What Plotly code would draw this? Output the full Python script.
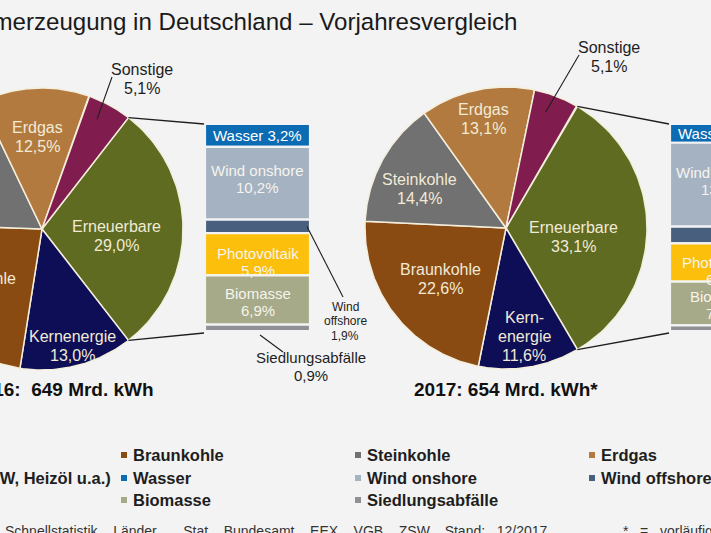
import numpy as np
import plotly.graph_objects as go

# Bruttostromerzeugung in Deutschland, Anteile in %
pie_labels = ["Erneuerbare", "Kernenergie", "Braunkohle", "Steinkohle", "Erdgas", "Sonstige"]
pie_2016 = [29.0, 13.0, 23.1, 17.3, 12.5, 5.1]
pie_2017 = [33.1, 11.6, 22.6, 14.4, 13.1, 5.1]

# Aufteilung der Erneuerbaren
ee_labels = ["Wasser", "Wind onshore", "Wind offshore", "Photovoltaik", "Biomasse", "Siedlungsabfälle"]
ee_2016 = [3.2, 10.2, 1.9, 5.9, 6.9, 0.9]
ee_2017 = [3.0, 13.4, 2.7, 6.1, 7.0, 0.9]

titles = ["2016:\u00a0 649 Mrd. kWh", "2017: 654 Mrd. kWh*"]

legend_rows = [
    ["Kernenergie", "Braunkohle", "Steinkohle", "Erdgas"],
    ["Sonstige (Pumpspeicher-KW, Heizöl u.a.)", "Wasser", "Wind onshore", "Wind offshore"],
    ["Photovoltaik", "Biomasse", "Siedlungsabfälle"],
]

colors = {
    "Erneuerbare": "#5e6b21",
    "Kernenergie": "#0e0e57",
    "Braunkohle": "#8a4b12",
    "Steinkohle": "#717171",
    "Erdgas": "#b27a3e",
    "Sonstige": "#801c4e",
    "Wasser": "#0b6bb3",
    "Wind onshore": "#a5b2c2",
    "Wind offshore": "#48607e",
    "Photovoltaik": "#fbbf0c",
    "Biomasse": "#a6aa88",
    "Siedlungsabfälle": "#8e9094",
}

W, H = 711, 533
bg = "#f3f3f3"
dark = "#1e1e1e"
cream = "#f1ead6"
FONT = "Liberation Sans, Arial, sans-serif"

# layout of the two pie + bar groups (pixel coordinates)
# rf: label radius as fraction of r, plus a small angle shift
groups = [
    dict(vals=pie_2016, ee=ee_2016, cx=42, cy=229, r=141, bx0=205,
         rf={"Erneuerbare": (0.53, 5), "Kernenergie": (0.86, 0), "Braunkohle": (0.63, -2),
             "Steinkohle": (0.75, 0), "Erdgas": (0.65, 0)},
         names={"Kernenergie": ["Kernenergie"]},
         sonst=(142, 79), sub=(156, "right")),
    dict(vals=pie_2017, ee=ee_2017, cx=506, cy=228, r=141, bx0=670,
         rf={"Erneuerbare": (0.48, 8), "Kernenergie": (0.78, 0), "Braunkohle": (0.59, 0),
             "Steinkohle": (0.67, -4.5), "Erdgas": (0.79, 0)},
         names={"Kernenergie": ["Kern-", "energie"]},
         sonst=(609, 57), sub=(506, "center")),
]
bar_w = 105
bar_top = 124
bar_h = 207
bar_label_shift = {"Wind onshore": -4, "Photovoltaik": 8, "Biomasse": 2}


def pct(v):
    return f"{v:.1f}".replace(".", ",") + "%"


def arc(cx, cy, r, a0, a1, n=80):
    t = np.radians(np.linspace(a0, a1, n))
    return cx + r * np.sin(t), cy - r * np.cos(t)


ann = []


def label(x, y, lines, size, color, gap, xanchor="center", bold=False):
    # one annotation per line, centred block around y (paper coords so nothing gets hidden)
    y0 = y - gap * (len(lines) - 1) / 2
    for i, t in enumerate(lines):
        ann.append(dict(x=x / W, y=1 - (y0 + i * gap) / H, xref="paper", yref="paper",
                        text=f"<b>{t}</b>" if bold else t, showarrow=False,
                        xanchor=xanchor, yanchor="middle",
                        font=dict(size=size, color=color)))


fig = go.Figure()

for g in groups:
    cx, cy, r = g["cx"], g["cy"], g["r"]
    vals = g["vals"]
    # bar-of-pie: Erneuerbare centred on 3 o'clock
    start = 90 - vals[0] * 3.6 / 2
    a = start
    for lab, v in zip(pie_labels, vals):
        a1 = a + v * 3.6
        xs, ys = arc(cx, cy, r, a, a1)
        fig.add_trace(go.Scatter(
            x=np.r_[cx, xs, cx], y=np.r_[cy, ys, cy], mode="lines",
            fill="toself", fillcolor=colors[lab],
            line=dict(color="#f4eedc", width=1.5), hoverinfo="skip"))
        mid = (a + a1) / 2
        if lab == "Sonstige":
            px, py = arc(cx, cy, r * 0.87, mid - 2, mid - 2, 1)
            lx, ly = g["sonst"]
            fig.add_trace(go.Scatter(x=[lx - 30, px[0]], y=[ly - 2, py[0]], mode="lines",
                                     line=dict(color=dark, width=1.1), hoverinfo="skip"))
            label(lx, ly, [lab, pct(v)], 16, dark, 19)
        else:
            f, da = g["rf"][lab]
            px, py = arc(cx, cy, r * f, mid + da, mid + da, 1)
            name = g["names"].get(lab, [lab])
            label(px[0], py[0], name + [pct(v)], 16, cream, 19)
        a = a1

    # stacked bar for the renewables
    ee = g["ee"]
    tot = sum(ee)
    heights = [v / tot * bar_h for v in ee]
    bases = list(bar_top + np.cumsum([0] + heights[:-1]))
    bx = g["bx0"] + bar_w / 2
    fig.add_trace(go.Bar(
        x=[bx] * len(ee), y=heights, base=bases, width=[bar_w] * len(ee),
        marker=dict(color=[colors[l] for l in ee_labels], line=dict(color=bg, width=2.2)),
        hoverinfo="skip"))
    for lab, v, b, h in zip(ee_labels, ee, bases, heights):
        if lab == "Wasser":
            label(bx, b + h / 2, [f"{lab} {pct(v)}"], 15, "#ffffff", 17)
        elif lab in bar_label_shift:
            label(bx, b + h / 2 + bar_label_shift[lab], [lab, pct(v)], 15, "#f6f4ec", 17)
        elif lab == "Wind offshore":
            x1 = g["bx0"] + bar_w
            fig.add_trace(go.Scatter(x=[x1 - 3, x1 + 33], y=[b + h / 2, 297], mode="lines",
                                     line=dict(color=dark, width=1.1), hoverinfo="skip"))
            label(x1 + 35, 321, ["Wind", "offshore", pct(v)], 12, dark, 14.5)
        else:
            x0 = g["bx0"]
            fig.add_trace(go.Scatter(x=[x0 + 55, x0 + 78], y=[b + h + 4, 352], mode="lines",
                                     line=dict(color=dark, width=1.1), hoverinfo="skip"))
            label(x0 + 106, 366, [lab, pct(v)], 15, dark, 18)

    # connector lines from the pie to the bar
    a_top, a_bot = start, start + vals[0] * 3.6
    for ang, yb in ((a_top, bar_top), (a_bot, bar_top + bar_h + 2)):
        px, py = arc(cx, cy, r, ang, ang, 1)
        fig.add_trace(go.Scatter(x=[px[0], g["bx0"] - 1], y=[py[0], yb], mode="lines",
                                 line=dict(color=dark, width=1.3), hoverinfo="skip"))

for t, g in zip(titles, groups):
    sx, anchor = g["sub"]
    label(sx, 389, [t], 19, "#111111", 0, xanchor=anchor, bold=True)

# legend (first column lies mostly left of the visible area)
col_x = [-220, 124, 358, 592]
row_y = [455, 478, 500]
mx, my, mc = [], [], []
for ri, row in enumerate(legend_rows):
    for ci, lab in enumerate(row):
        key = "Sonstige" if lab.startswith("Sonstige") else lab
        mx.append(col_x[ci])
        my.append(row_y[ri])
        mc.append(colors[key])
        label(col_x[ci] + 7, row_y[ri], [lab], 16.5, dark, 0, xanchor="left", bold=True)
fig.add_trace(go.Scatter(x=mx, y=my, mode="markers", hoverinfo="skip",
                         marker=dict(symbol="square", size=6, color=mc)))

label(519, 21, ["Bruttostromerzeugung in Deutschland – Vorjahresvergleich"], 24.1,
      "#1a1a1a", 0, xanchor="right")

# source line, set with wide (justified) word gaps
wide = "\u00a0\u00a0 "
source = wide.join(["Schnellstatistik,", "Länder,\u00a0\u00a0\u00a0", "Stat.",
                    "Bundesamt,", "EEX,", "VGB,", "ZSW,", "Stand:", "12/2017"])
note = wide.join(["*", "=", "vorläufig,", "teilweise", "geschätzt"])
label(3, 531, [source], 14, "#333333", 0, xanchor="left")
label(621, 531, [note], 14, "#333333", 0, xanchor="left")

fig.update_layout(
    width=W, height=H, margin=dict(l=0, r=0, t=0, b=0),
    paper_bgcolor=bg, plot_bgcolor=bg, showlegend=False, barmode="overlay",
    font=dict(family=FONT),
    xaxis=dict(range=[0, W], visible=False, fixedrange=True),
    yaxis=dict(range=[H, 0], visible=False, fixedrange=True),
    annotations=ann,
)

# the page body has a default margin; drop it so the figure sits at the window corner
fig.write_html("out.html", config={"displayModeBar": False},
               post_script="document.body.style.margin='0px';")
